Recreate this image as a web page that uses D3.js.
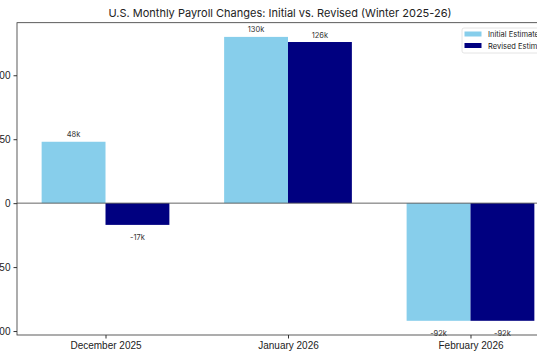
<!DOCTYPE html>
<html>
<head>
<meta charset="utf-8">
<script src="https://cdn.jsdelivr.net/npm/d3@7"></script>
<style>
  body { margin: 0; background: #fff; overflow: hidden; }
  svg { display: block; font-family: Inter, "Open Sans", sans-serif; }
</style>
</head>
<body>
<script>
const width = 537;
const height = 360;

// data
const months = ['December 2025', 'January 2026', 'February 2026'];
const initial = [48, 130, -92];
const revised = [-17, 126, -92];
const yTicks = [-100, -50, 0, 50, 100];
const seriesNames = ['Initial Estimate', 'Revised Estimate'];
const seriesColors = ['#87ceeb', '#000080'];

const barW = 0.35;
const plot = {left: 17, right: 559, top: 22.7, bottom: 335};

const svg = d3.select('body').append('svg')
  .attr('width', width)
  .attr('height', height);

const x = d3.scaleLinear()
  .domain([-0.485, months.length - 1 + 0.485])
  .range([plot.left, plot.right]);

const y = d3.scaleLinear()
  .domain([-103.1, 141.1])
  .range([plot.bottom, plot.top]);

const fmtTick = d => d < 0 ? '\u2212' + Math.abs(d) : String(d);

// bars
const series = [initial, revised];
series.forEach((vals, s) => {
  const off = s === 0 ? -barW / 2 : barW / 2;
  const g = svg.append('g');
  g.selectAll('rect')
    .data(vals)
    .enter().append('rect')
      .attr('x', (d, i) => x(i + off - barW / 2))
      .attr('width', x(barW) - x(0))
      .attr('y', d => y(Math.max(0, d)))
      .attr('height', d => Math.abs(y(d) - y(0)))
      .attr('fill', seriesColors[s]);

  g.selectAll('text')
    .data(vals)
    .enter().append('text')
      .attr('x', (d, i) => x(i + off))
      .attr('y', d => d >= 0 ? y(d) - 4.5 : y(d) + 15.5)
      .attr('text-anchor', 'middle')
      .attr('font-size', 7.5)
      .attr('fill', '#333')
      .text(d => d + 'k');
});

// zero line
svg.append('line')
  .attr('x1', plot.left).attr('x2', plot.right)
  .attr('y1', y(0)).attr('y2', y(0))
  .attr('stroke', '#555')
  .attr('stroke-width', 0.9);

// axes
const yAxis = d3.axisLeft(y)
  .tickValues(yTicks)
  .tickFormat(fmtTick)
  .tickSize(3.5)
  .tickPadding(3);

svg.append('g')
  .attr('transform', `translate(${plot.left},0)`)
  .call(yAxis)
  .call(g => g.select('.domain').remove())
  .call(g => g.selectAll('text').attr('font-size', 10).attr('fill', '#222').attr('font-family', 'inherit'))
  .call(g => g.selectAll('line').attr('stroke', '#333'));

const xAxis = d3.axisBottom(x)
  .tickValues(d3.range(months.length))
  .tickFormat(i => months[i])
  .tickSize(3.5)
  .tickPadding(3);

svg.append('g')
  .attr('transform', `translate(0,${plot.bottom})`)
  .call(xAxis)
  .call(g => g.select('.domain').remove())
  .call(g => g.selectAll('text').attr('font-size', 10).attr('fill', '#222').attr('font-family', 'inherit'))
  .call(g => g.selectAll('line').attr('stroke', '#333'));

// frame
svg.append('rect')
  .attr('x', plot.left).attr('y', plot.top)
  .attr('width', plot.right - plot.left)
  .attr('height', plot.bottom - plot.top)
  .attr('fill', 'none')
  .attr('stroke', '#333')
  .attr('stroke-width', 0.8);

// title
svg.append('text')
  .attr('x', 280)
  .attr('y', 17)
  .attr('text-anchor', 'middle')
  .attr('font-size', 11)
  .attr('fill', '#222')
  .text('U.S. Monthly Payroll Changes: Initial vs. Revised (Winter 2025-26)');

// legend
const leg = svg.append('g').attr('transform', 'translate(462,28)');
leg.append('rect')
  .attr('width', 95).attr('height', 25)
  .attr('rx', 2)
  .attr('fill', 'rgba(255,255,255,0.8)')
  .attr('stroke', '#ddd')
  .attr('stroke-width', 0.8);
seriesNames.forEach((name, s) => {
  leg.append('rect')
    .attr('x', 2.5).attr('y', 3.5 + s * 11.5)
    .attr('width', 17).attr('height', 5)
    .attr('fill', seriesColors[s]);
  leg.append('text')
    .attr('x', 26).attr('y', 9 + s * 11.5)
    .attr('font-size', 7.5)
    .attr('fill', '#222')
    .text(name);
});
</script>
</body>
</html>
